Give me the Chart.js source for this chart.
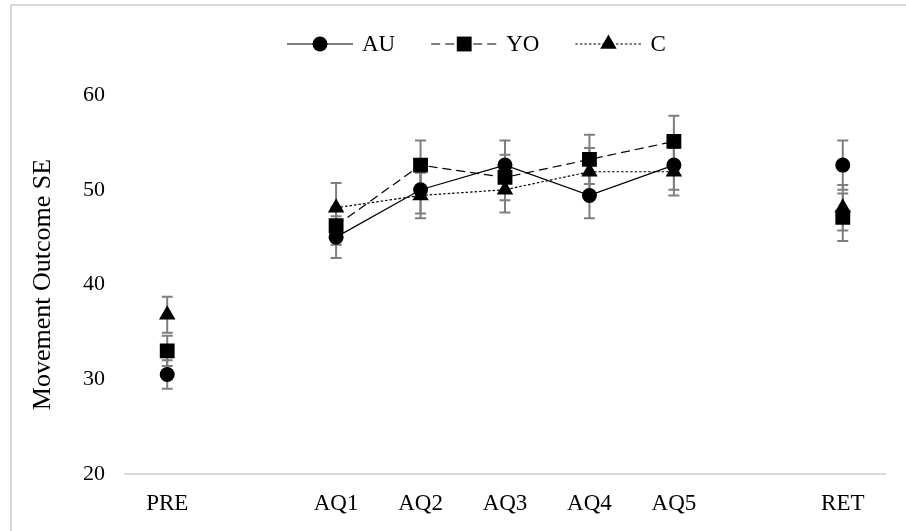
<!DOCTYPE html>
<html>
<head>
<meta charset="utf-8">
<script src="https://cdn.jsdelivr.net/npm/chart.js@4"></script>
<style>
  html, body { margin: 0; padding: 0; background: #fff; }
  #wrap { position: relative; width: 906px; height: 531px; overflow: hidden; }
  #frame { position: absolute; left: 10px; top: 4px; width: 1000px; height: 1000px;
           border-left: 2px solid #d9d9d9; border-top: 2px solid #d9d9d9; }
  canvas { position: absolute; left: 0; top: 0; }
</style>
</head>
<body>
<div id="wrap">
  <div id="frame"></div>
  <canvas id="chart" width="906" height="531"></canvas>
</div>
<script>
// categories (blank slots keep the gaps between phases)
const labels = ['PRE', '', 'AQ1', 'AQ2', 'AQ3', 'AQ4', 'AQ5', '', 'RET'];

// means
const au = [30.5, null, 45.0, 50.0, 52.6, 49.4, 52.6, null, 52.6];
const yo = [33.0, null, 46.2, 52.6, 51.3, 53.2, 55.1, null, 47.1];
const c  = [36.8, null, 48.1, 49.4, 50.0, 51.9, 51.9, null, 48.1];

// standard errors
const auSE = [1.5, null, 2.2, 2.5, 2.6, 2.4, 2.6, null, 2.6];
const yoSE = [1.6, null, 2.0, 2.6, 2.4, 2.6, 2.7, null, 2.5];
const cSE  = [1.9, null, 2.6, 2.4, 2.4, 2.5, 2.5, null, 2.4];

const yTicks = [20, 30, 40, 50, 60];

const serif = '"Liberation Serif", "Times New Roman", serif';

// error bars drawn under the markers
const errorBars = {
  id: 'errorBars',
  beforeDatasetsDraw(chart) {
    const ctx = chart.ctx;
    const x = chart.scales.x, y = chart.scales.y;
    ctx.save();
    ctx.strokeStyle = '#7f7f7f';
    ctx.lineWidth = 2;
    chart.data.datasets.forEach(ds => {
      ds.data.forEach((v, i) => {
        if (v === null) return;
        const se = ds.se[i];
        const px = x.getPixelForValue(i);
        const top = y.getPixelForValue(v + se);
        const bot = y.getPixelForValue(v - se);
        ctx.beginPath();
        ctx.moveTo(px, top); ctx.lineTo(px, bot);
        ctx.moveTo(px - 5.5, top); ctx.lineTo(px + 5.5, top);
        ctx.moveTo(px - 5.5, bot); ctx.lineTo(px + 5.5, bot);
        ctx.stroke();
      });
    });
    ctx.restore();
  }
};

// legend: line sample with marker, then label
const lineLegend = {
  id: 'lineLegend',
  afterDraw(chart) {
    const ctx = chart.ctx;
    const cy = 44;
    let x = 287;
    ctx.save();
    ctx.font = '23px ' + serif;
    ctx.textBaseline = 'middle';
    chart.data.datasets.forEach(ds => {
      const w = 66;
      ctx.strokeStyle = '#000';
      ctx.lineWidth = 1.2;
      ctx.setLineDash(ds.borderDash || []);
      ctx.beginPath();
      ctx.moveTo(x, cy); ctx.lineTo(x + w, cy);
      ctx.stroke();
      ctx.setLineDash([]);
      Chart.helpers.drawPoint(ctx, {
        pointStyle: ds.pointStyle, radius: ds.pointRadius, borderWidth: 0
      }, x + w / 2, cy);
      ctx.fillStyle = '#000';
      ctx.fillText(ds.label, x + w + 9, cy + 1);
      x += w + 9 + ctx.measureText(ds.label).width + 36;
    });
    ctx.restore();
  }
};

new Chart(document.getElementById('chart'), {
  type: 'line',
  data: {
    labels: labels,
    datasets: [
      { label: 'AU', data: au, se: auSE, pointStyle: 'circle', pointRadius: 7.5,
        borderDash: [] },
      { label: 'YO', data: yo, se: yoSE, pointStyle: 'rect', pointRadius: 10.5,
        borderDash: [9, 5] },
      { label: 'C', data: c, se: cSE, pointStyle: 'triangle', pointRadius: 9.5,
        borderDash: [2.5, 2] }
    ].map(d => Object.assign(d, {
      borderColor: '#000', borderWidth: 1.2, backgroundColor: '#000',
      pointBackgroundColor: '#000', pointBorderColor: '#000', pointBorderWidth: 0,
      pointHoverRadius: d.pointRadius, tension: 0, spanGaps: false
    }))
  },
  options: {
    responsive: false,
    animation: false,
    layout: { padding: { left: 24, right: 21, top: 95, bottom: 0 } },
    plugins: { legend: { display: false }, tooltip: { enabled: false } },
    scales: {
      x: {
        offset: true,
        grid: { display: false, drawTicks: false },
        border: { display: true, color: '#d9d9d9', width: 2 },
        ticks: { color: '#000', font: { family: serif, size: 23 }, padding: 16,
                 maxRotation: 0, autoSkip: false },
        afterFit(s) { s.height = 57; }
      },
      y: {
        min: 20, max: 60,
        afterBuildTicks(s) { s.ticks = yTicks.map(v => ({ value: v })); },
        grid: { display: false, drawTicks: false },
        border: { display: false },
        ticks: { color: '#000', font: { family: serif, size: 22 }, padding: 20 },
        title: { display: true, text: 'Movement Outcome SE', color: '#000',
                 font: { family: serif, size: 26 }, padding: 4 },
        afterFit(s) { s.width = 101; }
      }
    }
  },
  plugins: [errorBars, lineLegend]
});
</script>
</body>
</html>
